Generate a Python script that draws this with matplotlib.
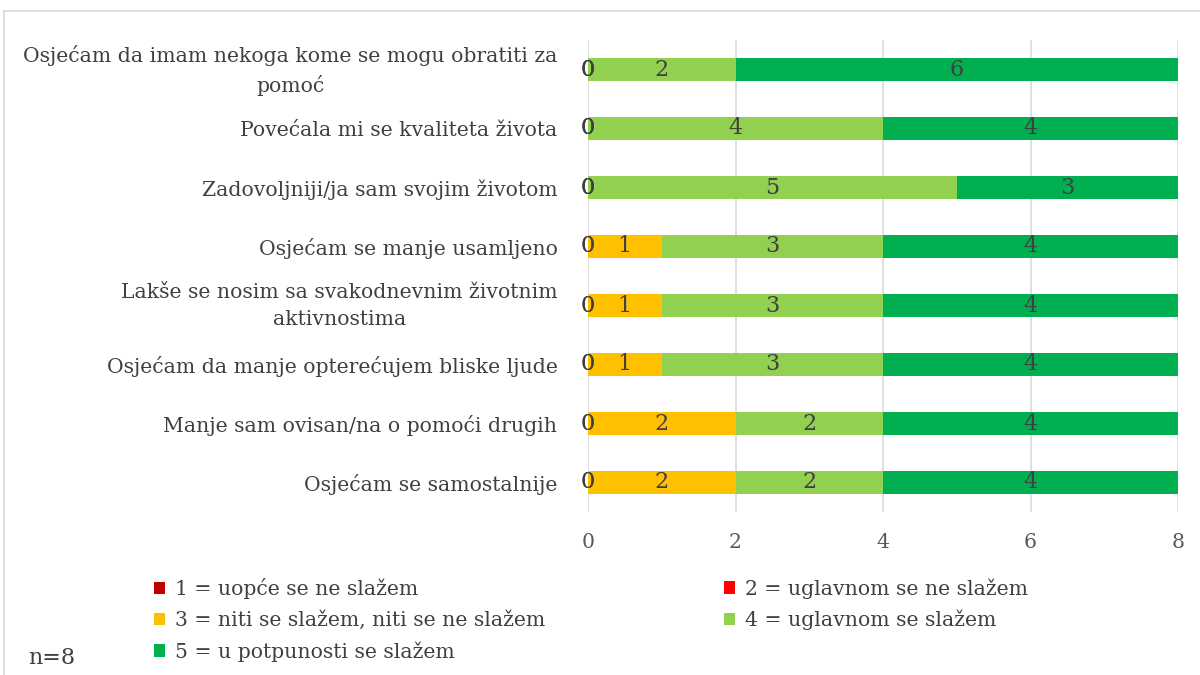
import numpy as np
import matplotlib
matplotlib.use('Agg')
import matplotlib.pyplot as plt
import matplotlib.transforms as mtransforms
from matplotlib.patches import Patch
from matplotlib.lines import Line2D

plt.rcParams['font.family'] = ['DejaVu Serif']

categories = [
    "Osjećam da imam nekoga kome se mogu obratiti za\npomoć",
    "Povećala mi se kvaliteta života",
    "Zadovoljniji/ja sam svojim životom",
    "Osjećam se manje usamljeno",
    "Lakše se nosim sa svakodnevnim životnim\naktivnostima",
    "Osjećam da manje opterećujem bliske ljude",
    "Manje sam ovisan/na o pomoći drugih",
    "Osjećam se samostalnije",
]
series_names = [
    "1 = uopće se ne slažem",
    "2 = uglavnom se ne slažem",
    "3 = niti se slažem, niti se ne slažem",
    "4 = uglavnom se slažem",
    "5 = u potpunosti se slažem",
]
s1 = [0, 0, 0, 0, 0, 0, 0, 0]
s2 = [0, 0, 0, 0, 0, 0, 0, 0]
s3 = [0, 0, 0, 1, 1, 1, 2, 2]
s4 = [2, 4, 5, 3, 3, 3, 2, 2]
s5 = [6, 4, 3, 4, 4, 4, 4, 4]
colors = ["#C00000", "#FF0000", "#FFC000", "#92D050", "#00B050"]
ticks = [0, 2, 4, 6, 8]

fs = 14.7

fig = plt.figure(figsize=(12, 6.75), dpi=100)
ax = fig.add_axes([588 / 1200, 1 - 512 / 675, 590 / 1200, 472 / 675])

y = np.arange(len(categories))
left = np.zeros(len(categories))
for vals, name, col in zip([s1, s2, s3, s4, s5], series_names, colors):
    bars = ax.barh(y, vals, left=left, height=0.39, color=col, label=name)
    ax.bar_label(bars, labels=[str(v) for v in vals], label_type='center',
                 fontsize=16, color='#404040')
    left += np.array(vals)

ax.set_xlim(0, 8)
ax.set_ylim(len(categories) - 0.5, -0.5)
ax.set_xticks(ticks)
ax.set_yticks(y)
ax.set_yticklabels(categories, fontsize=fs, color='#404040',
                   multialignment='center', linespacing=1.55)
ax.tick_params(axis='x', colors='#595959', labelsize=fs, length=0, pad=15)
ax.tick_params(axis='y', length=0, pad=22)
ax.grid(axis='x', color='#D9D9D9', linewidth=1.2)
ax.set_axisbelow(True)
for s in ax.spines.values():
    s.set_visible(False)

# two-line labels sit a bit low, nudge them up
for lab in ax.get_yticklabels():
    if '\n' in lab.get_text():
        lab.set_transform(lab.get_transform() +
                          mtransforms.ScaledTranslation(0, 6 / 100, fig.dpi_scale_trans))

# legend, row-wise like the original (two columns)
h = [Patch(facecolor=c) for c in colors]
leg_kw = dict(loc='upper left', frameon=False, fontsize=fs, labelcolor='#404040',
              handlelength=0.55, handleheight=0.55, handletextpad=0.45,
              labelspacing=0.55, borderpad=0)
fig.legend([h[0], h[2], h[4]], [series_names[0], series_names[2], series_names[4]],
           bbox_to_anchor=(144 / 1200, 1 - 568 / 675), **leg_kw)
fig.legend([h[1], h[3]], [series_names[1], series_names[3]],
           bbox_to_anchor=(714 / 1200, 1 - 568 / 675), **leg_kw)

fig.text(28 / 1200, 1 - 658 / 675, "n=8", fontsize=16, color='#404040', va='center')

# outer chart border (cropped at right and bottom)
fig.add_artist(Line2D([4 / 1200, 4 / 1200], [0, 1 - 11 / 675], color='#D9D9D9', lw=1.2))
fig.add_artist(Line2D([4 / 1200, 1], [1 - 11 / 675, 1 - 11 / 675], color='#D9D9D9', lw=1.2))

fig.savefig('out.png', dpi=100)
